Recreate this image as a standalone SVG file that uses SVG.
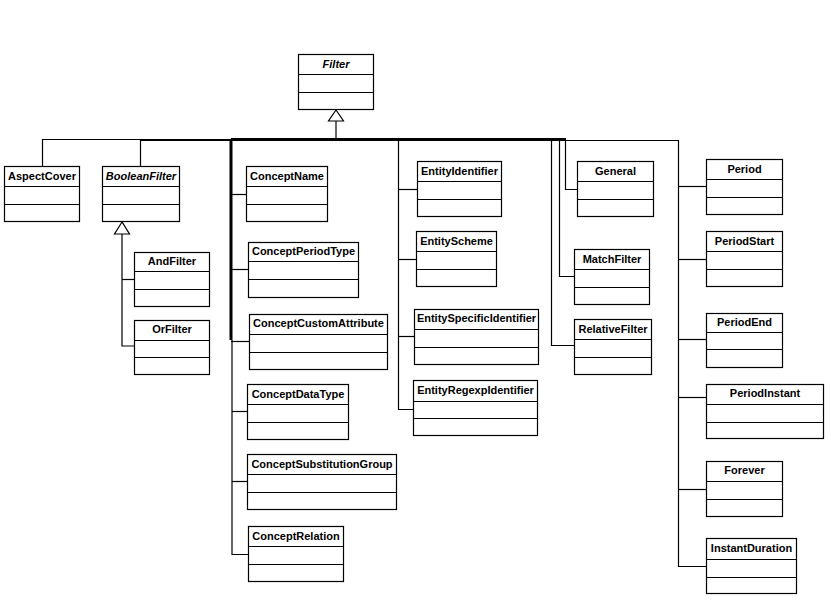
<svg xmlns="http://www.w3.org/2000/svg" width="831" height="604" viewBox="0 0 831 604">
<style>
.b rect{fill:#fff;stroke:#000;stroke-width:1.2}
.b line{stroke:#000;stroke-width:1.2}
.b text{font-family:"Liberation Sans",Arial,sans-serif;font-size:11px;font-weight:bold;text-anchor:middle;fill:#000}
.b text.i{font-style:italic}
#connectors line,#connectors polyline{stroke:#000;stroke-width:1.2;fill:none}
#connectors .t{stroke-width:3}
#connectors .m{stroke-width:2}
#connectors polygon{fill:#fff;stroke:#000;stroke-width:1.2}
</style>
<rect width="831" height="604" fill="#fff"/>
<g id="connectors">
<polygon points="336,110 328.5,121 343.5,121"/>
<line x1="336" y1="121" x2="336" y2="139.5"/>
<line x1="42" y1="139.5" x2="140" y2="139.5"/>
<line class="m" x1="140" y1="140" x2="231" y2="140"/>
<line class="t" x1="231" y1="139.5" x2="566" y2="139.5"/>
<line x1="566" y1="140.5" x2="678.5" y2="140.5"/>
<line x1="42.5" y1="139.5" x2="42.5" y2="166"/>
<line x1="140.5" y1="139.5" x2="140.5" y2="166"/>
<line class="t" x1="231" y1="139" x2="231" y2="340"/>
<polyline points="232,340 232,554.5 248,554.5"/>
<line x1="231" y1="194.5" x2="246" y2="194.5"/>
<line x1="231" y1="269.5" x2="248" y2="269.5"/>
<line x1="231" y1="341.5" x2="249" y2="341.5"/>
<line x1="232" y1="411.5" x2="247" y2="411.5"/>
<line x1="232" y1="481.5" x2="247" y2="481.5"/>
<polygon points="122,222 114.5,234 129.5,234"/>
<polyline points="122,234 122,346 134,346"/>
<line x1="122" y1="279.5" x2="134" y2="279.5"/>
<polyline points="398.5,139.5 398.5,409.5 413,409.5"/>
<line x1="398.5" y1="189.5" x2="417" y2="189.5"/>
<line x1="398.5" y1="259.5" x2="416" y2="259.5"/>
<line x1="398.5" y1="336.5" x2="414" y2="336.5"/>
<polyline points="551.5,139.5 551.5,345.5 574,345.5"/>
<polyline points="559.5,139.5 559.5,276.5 574,276.5"/>
<polyline points="565.5,139.5 565.5,189.5 577,189.5"/>
<polyline points="678.5,140 678.5,566.5 706,566.5"/>
<line x1="678.5" y1="186.5" x2="706" y2="186.5"/>
<line x1="678.5" y1="259.5" x2="706" y2="259.5"/>
<line x1="678.5" y1="339.5" x2="706" y2="339.5"/>
<line x1="678.5" y1="397.5" x2="706" y2="397.5"/>
<line x1="678.5" y1="489.5" x2="706" y2="489.5"/>
</g>
<g id="Filter" class="b"><rect x="298.5" y="54.5" width="75" height="55"/><line x1="298.5" y1="74.5" x2="373.5" y2="74.5"/><line x1="298.5" y1="92.5" x2="373.5" y2="92.5"/><text class="i" x="336" y="68">Filter</text></g>
<g id="AspectCover" class="b"><rect x="4.5" y="166.5" width="75" height="55"/><line x1="4.5" y1="186.5" x2="79.5" y2="186.5"/><line x1="4.5" y1="204.5" x2="79.5" y2="204.5"/><text x="42" y="180">AspectCover</text></g>
<g id="BooleanFilter" class="b"><rect x="102.5" y="166.5" width="77" height="55"/><line x1="102.5" y1="186.5" x2="179.5" y2="186.5"/><line x1="102.5" y1="204.5" x2="179.5" y2="204.5"/><text class="i" x="141" y="180">BooleanFilter</text></g>
<g id="AndFilter" class="b"><rect x="134.5" y="252.5" width="75" height="54"/><line x1="134.5" y1="271.5" x2="209.5" y2="271.5"/><line x1="134.5" y1="289.5" x2="209.5" y2="289.5"/><text x="172" y="265">AndFilter</text></g>
<g id="OrFilter" class="b"><rect x="134.5" y="320.5" width="75" height="54"/><line x1="134.5" y1="340.5" x2="209.5" y2="340.5"/><line x1="134.5" y1="357.5" x2="209.5" y2="357.5"/><text x="172" y="333">OrFilter</text></g>
<g id="ConceptName" class="b"><rect x="246.5" y="166.5" width="81" height="55"/><line x1="246.5" y1="186.5" x2="327.5" y2="186.5"/><line x1="246.5" y1="204.5" x2="327.5" y2="204.5"/><text x="287" y="180">ConceptName</text></g>
<g id="ConceptPeriodType" class="b"><rect x="248.5" y="242.5" width="110" height="55"/><line x1="248.5" y1="261.5" x2="358.5" y2="261.5"/><line x1="248.5" y1="279.5" x2="358.5" y2="279.5"/><text x="303.5" y="255">ConceptPeriodType</text></g>
<g id="ConceptCustomAttribute" class="b"><rect x="249.5" y="314.5" width="138" height="55"/><line x1="249.5" y1="334.5" x2="387.5" y2="334.5"/><line x1="249.5" y1="352.5" x2="387.5" y2="352.5"/><text x="318.5" y="327">ConceptCustomAttribute</text></g>
<g id="ConceptDataType" class="b"><rect x="247.5" y="384.5" width="101" height="55"/><line x1="247.5" y1="404.5" x2="348.5" y2="404.5"/><line x1="247.5" y1="422.5" x2="348.5" y2="422.5"/><text x="298" y="398">ConceptDataType</text></g>
<g id="ConceptSubstitutionGroup" class="b"><rect x="247.5" y="454.5" width="149" height="55"/><line x1="247.5" y1="474.5" x2="396.5" y2="474.5"/><line x1="247.5" y1="492.5" x2="396.5" y2="492.5"/><text x="322" y="468">ConceptSubstitutionGroup</text></g>
<g id="ConceptRelation" class="b"><rect x="248.5" y="526.5" width="95" height="55"/><line x1="248.5" y1="546.5" x2="343.5" y2="546.5"/><line x1="248.5" y1="564.5" x2="343.5" y2="564.5"/><text x="296" y="540">ConceptRelation</text></g>
<g id="EntityIdentifier" class="b"><rect x="417.5" y="161.5" width="84" height="55"/><line x1="417.5" y1="181.5" x2="501.5" y2="181.5"/><line x1="417.5" y1="199.5" x2="501.5" y2="199.5"/><text x="459.5" y="175">EntityIdentifier</text></g>
<g id="EntityScheme" class="b"><rect x="416.5" y="231.5" width="80" height="55"/><line x1="416.5" y1="251.5" x2="496.5" y2="251.5"/><line x1="416.5" y1="269.5" x2="496.5" y2="269.5"/><text x="456.5" y="245">EntityScheme</text></g>
<g id="EntitySpecificIdentifier" class="b"><rect x="414.5" y="309.5" width="124" height="55"/><line x1="414.5" y1="329.5" x2="538.5" y2="329.5"/><line x1="414.5" y1="347.5" x2="538.5" y2="347.5"/><text x="476.5" y="322">EntitySpecificIdentifier</text></g>
<g id="EntityRegexpIdentifier" class="b"><rect x="413.5" y="380.5" width="124" height="55"/><line x1="413.5" y1="401.5" x2="537.5" y2="401.5"/><line x1="413.5" y1="418.5" x2="537.5" y2="418.5"/><text x="475.5" y="394">EntityRegexpIdentifier</text></g>
<g id="General" class="b"><rect x="577.5" y="161.5" width="76" height="55"/><line x1="577.5" y1="181.5" x2="653.5" y2="181.5"/><line x1="577.5" y1="199.5" x2="653.5" y2="199.5"/><text x="615.5" y="175">General</text></g>
<g id="MatchFilter" class="b"><rect x="574.5" y="249.5" width="75" height="55"/><line x1="574.5" y1="269.5" x2="649.5" y2="269.5"/><line x1="574.5" y1="287.5" x2="649.5" y2="287.5"/><text x="612" y="263">MatchFilter</text></g>
<g id="RelativeFilter" class="b"><rect x="574.5" y="319.5" width="77" height="55"/><line x1="574.5" y1="339.5" x2="651.5" y2="339.5"/><line x1="574.5" y1="357.5" x2="651.5" y2="357.5"/><text x="613" y="333">RelativeFilter</text></g>
<g id="Period" class="b"><rect x="706.5" y="159.5" width="76" height="55"/><line x1="706.5" y1="179.5" x2="782.5" y2="179.5"/><line x1="706.5" y1="197.5" x2="782.5" y2="197.5"/><text x="744.5" y="173">Period</text></g>
<g id="PeriodStart" class="b"><rect x="706.5" y="231.5" width="76" height="55"/><line x1="706.5" y1="251.5" x2="782.5" y2="251.5"/><line x1="706.5" y1="269.5" x2="782.5" y2="269.5"/><text x="744.5" y="245">PeriodStart</text></g>
<g id="PeriodEnd" class="b"><rect x="706.5" y="313.5" width="76" height="54"/><line x1="706.5" y1="332.5" x2="782.5" y2="332.5"/><line x1="706.5" y1="349.5" x2="782.5" y2="349.5"/><text x="744.5" y="326">PeriodEnd</text></g>
<g id="PeriodInstant" class="b"><rect x="706.5" y="384.5" width="117" height="54"/><line x1="706.5" y1="404.5" x2="823.5" y2="404.5"/><line x1="706.5" y1="422.5" x2="823.5" y2="422.5"/><text x="765" y="397">PeriodInstant</text></g>
<g id="Forever" class="b"><rect x="706.5" y="461.5" width="76" height="55"/><line x1="706.5" y1="481.5" x2="782.5" y2="481.5"/><line x1="706.5" y1="499.5" x2="782.5" y2="499.5"/><text x="744.5" y="474">Forever</text></g>
<g id="InstantDuration" class="b"><rect x="706.5" y="538.5" width="90" height="55"/><line x1="706.5" y1="559.5" x2="796.5" y2="559.5"/><line x1="706.5" y1="577.5" x2="796.5" y2="577.5"/><text x="751.5" y="552">InstantDuration</text></g>
</svg>
